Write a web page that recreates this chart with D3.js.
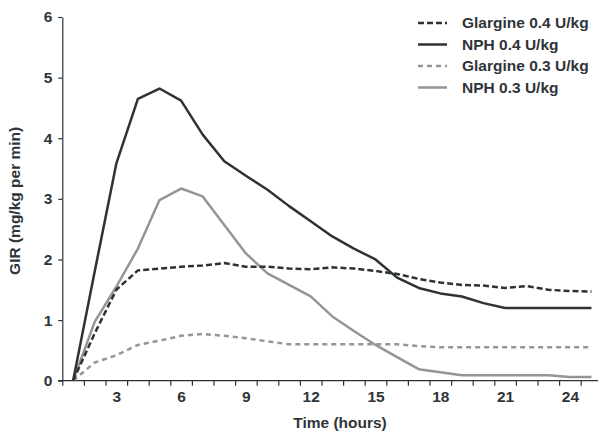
<!DOCTYPE html>
<html>
<head>
<meta charset="utf-8">
<script src="https://cdn.jsdelivr.net/npm/d3@7"></script>
<style>
  body { margin: 0; background: #fff; }
  text { font-family: "Liberation Sans", Arial, sans-serif; font-weight: bold; fill: #2f3438; }
</style>
</head>
<body>
<script>
// hours after injection
const hours = [1, 2, 3, 4, 5, 6, 7, 8, 9, 10, 11, 12, 13, 14, 15, 16, 17, 18, 19, 20, 21, 22, 23, 24, 25];
const glargine04 = [0, 0.78, 1.5, 1.82, 1.85, 1.88, 1.9, 1.94, 1.88, 1.88, 1.85, 1.84, 1.87, 1.85, 1.81, 1.76, 1.68, 1.62, 1.58, 1.57, 1.53, 1.56, 1.5, 1.48, 1.47];
const nph04 = [0, 1.8, 3.58, 4.65, 4.82, 4.62, 4.06, 3.62, 3.38, 3.15, 2.88, 2.63, 2.38, 2.18, 2.0, 1.7, 1.53, 1.44, 1.39, 1.28, 1.2, 1.2, 1.2, 1.2, 1.2];
const glargine03 = [0, 0.3, 0.42, 0.59, 0.66, 0.74, 0.77, 0.74, 0.7, 0.65, 0.6, 0.6, 0.6, 0.6, 0.6, 0.6, 0.57, 0.55, 0.55, 0.55, 0.55, 0.55, 0.55, 0.55, 0.55];
const nph03 = [0, 0.97, 1.55, 2.18, 2.98, 3.17, 3.04, 2.57, 2.1, 1.77, 1.58, 1.39, 1.06, 0.82, 0.59, 0.39, 0.19, 0.14, 0.09, 0.09, 0.09, 0.09, 0.09, 0.06, 0.06];
const seriesNames = ['Glargine 0.4 U/kg', 'NPH 0.4 U/kg', 'Glargine 0.3 U/kg', 'NPH 0.3 U/kg'];
const xTickLabels = [3, 6, 9, 12, 15, 18, 21, 24];
const yTicks = [0, 1, 2, 3, 4, 5, 6];

const DARK = '#2d3236';
const GREY = '#959595';

const styles = [
  { color: DARK, dash: '6,3' },
  { color: DARK, dash: null },
  { color: GREY, dash: '5,4' },
  { color: GREY, dash: null },
];
const seriesValues = [glargine04, nph04, glargine03, nph03];

const width = 600;
const height = 432;

const svg = d3.select('body').append('svg')
  .attr('width', width)
  .attr('height', height);

// ticks sit on the hour boundaries, labels in between
const x = d3.scaleLinear().domain([0.5, 24.5]).range([62.3, 580.7]);
const y = d3.scaleLinear().domain([0, 6]).range([380.7, 17]);

const xAxis = svg.append('g')
  .attr('transform', `translate(0, ${y(0)})`)
  .call(d3.axisBottom(x)
    .tickValues(d3.range(0.5, 25, 1))
    .tickFormat('')
    .tickSize(5)
    .tickSizeOuter(0));
xAxis.select('.domain').attr('d', 'M58,0H598');
xAxis.selectAll('line, path').attr('stroke', DARK).attr('stroke-width', 1.2);

const xLabels = svg.append('g')
  .attr('transform', `translate(0, ${y(0)})`)
  .call(d3.axisBottom(x).tickValues(xTickLabels).tickSize(0).tickPadding(10));
xLabels.select('.domain').remove();
xLabels.selectAll('text').attr('font-size', 15.5).attr('fill', DARK);

const yAxis = svg.append('g')
  .attr('transform', `translate(${x(0.5)}, 0)`)
  .call(d3.axisLeft(y)
    .tickValues(yTicks)
    .tickFormat(d3.format('d'))
    .tickSize(4)
    .tickSizeOuter(0)
    .tickPadding(6));
yAxis.selectAll('line, path').attr('stroke', DARK).attr('stroke-width', 1.2);
yAxis.selectAll('text').attr('font-size', 15.5).attr('fill', DARK);

svg.append('text')
  .attr('transform', `translate(20, ${(y(0) + y(6)) / 2 + 2}) rotate(-90)`)
  .attr('text-anchor', 'middle')
  .attr('font-size', 15.5)
  .text('GIR (mg/kg per min)');

svg.append('text')
  .attr('x', 340)
  .attr('y', 428)
  .attr('text-anchor', 'middle')
  .attr('font-size', 15.5)
  .text('Time (hours)');

const line = d3.line()
  .x((d, i) => x(hours[i]))
  .y(d => y(d));

// draw grey ones first so the dark lines sit on top
[2, 3, 0, 1].forEach((k) => {
  svg.append('path')
    .datum(seriesValues[k])
    .attr('fill', 'none')
    .attr('stroke', styles[k].color)
    .attr('stroke-width', 2.5)
    .attr('stroke-dasharray', styles[k].dash)
    .attr('stroke-linejoin', 'round')
    .attr('d', line);
});

// legend
const legend = svg.append('g').attr('transform', 'translate(418, 23)');
const rows = legend.selectAll('g')
  .data(seriesNames)
  .enter()
  .append('g')
  .attr('transform', (d, i) => `translate(0, ${i * 21.5})`);

rows.append('line')
  .attr('x1', 0)
  .attr('x2', 29)
  .attr('stroke', (d, i) => styles[i].color)
  .attr('stroke-width', 2.5)
  .attr('stroke-dasharray', (d, i) => styles[i].dash);

rows.append('text')
  .attr('x', 44)
  .attr('dy', '0.35em')
  .attr('font-size', 15.5)
  .text(d => d);
</script>
</body>
</html>
